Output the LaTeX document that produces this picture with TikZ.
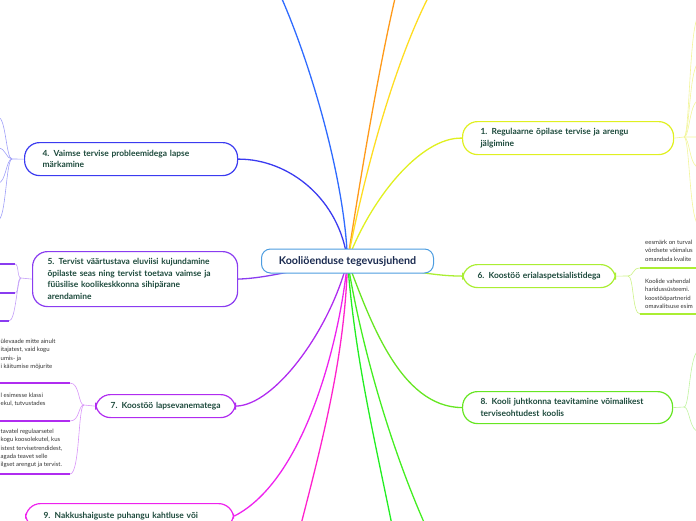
\documentclass[tikz,border=0pt]{standalone}
\usepackage{fontspec}
\setmainfont{Lato}
\usetikzlibrary{positioning}
\pgfdeclarelayer{back}
\pgfsetlayers{back,main}

\definecolor{rootblue}{HTML}{4D9DE0}
\definecolor{rootink}{HTML}{1A2A4F}
\definecolor{topicink}{HTML}{1D4A3C}
\definecolor{leafink}{HTML}{333333}
\definecolor{cfour}{HTML}{3B3BF0}
\definecolor{cfourlt}{HTML}{A0A0F8}
\definecolor{cfive}{HTML}{8A3CF0}
\definecolor{cfivelt}{HTML}{C4A0F8}
\definecolor{cseven}{HTML}{B02CF0}
\definecolor{csevenlt}{HTML}{D895F8}
\definecolor{cnine}{HTML}{EE22EE}
\definecolor{cmagenta}{HTML}{FF22CC}
\definecolor{cgreenA}{HTML}{22EE22}
\definecolor{cgreenB}{HTML}{44EE22}
\definecolor{ceight}{HTML}{66E622}
\definecolor{ceightlt}{HTML}{C0F3A0}
\definecolor{csix}{HTML}{AAEE33}
\definecolor{csixlt}{HTML}{CCF285}
\definecolor{cone}{HTML}{E0F020}
\definecolor{conelt}{HTML}{F2F59A}
\definecolor{cyellow}{HTML}{FFDD22}
\definecolor{corange}{HTML}{FF9A1A}
\definecolor{cblue}{HTML}{2F6BFF}

\tikzset{
  rootbox/.style={rectangle, draw=rootblue, line width=1pt, fill=white,
    rounded corners=9pt, minimum width=172pt, minimum height=24pt,
    text=rootink, font=\bfseries\fontsize{10.7}{12}\selectfont},
  topic/.style={rectangle, line width=1.2pt, fill=white, rounded corners=15pt,
    inner ysep=4.5pt, text=topicink, align=left, anchor=north west,
    font=\bfseries\fontsize{8.4}{11.5}\selectfont},
  leaf/.style={inner sep=0pt, anchor=north west, text=leafink, align=left,
    font=\fontsize{6}{8.2}\selectfont},
  link/.style={line width=1.3pt},
  sublink/.style={line width=0.6pt},
  underline/.style={line width=1.5pt},
}

\begin{document}
\begin{tikzpicture}[x=1pt, y=-1pt]
\useasboundingbox (0,0) rectangle (696,520);

% centre
\node[rootbox] (root) at (347.5,261) {Kooliöenduse tegevusjuhend};

% main topics
\node[topic, draw=cfour, minimum width=213pt, minimum height=33pt,
  inner xsep=18pt, text width=177pt] (vaimne) at (24,142)
  {4. Vaimse tervise probleemidega lapse\\märkamine};
\node[topic, draw=cfive, minimum width=205pt, minimum height=55pt,
  inner xsep=15pt, text width=175pt] (eluviis) at (32,251)
  {5. Tervist väärtustava eluviisi kujundamine\\õpilaste seas ning tervist toetava vaimse ja\\füüsilise koolikeskkonna sihipärane\\arendamine};
\node[topic, draw=cseven, minimum width=140pt, minimum height=23pt,
  inner xsep=10pt, text width=120pt, align=center] (vanemad) at (95,394)
  {7. Koostöö lapsevanematega};
\node[topic, draw=cnine, minimum width=208pt, minimum height=25pt,
  inner xsep=18pt, text width=172pt] (nakkus) at (25,503)
  {9. Nakkushaiguste puhangu kahtluse või};
\node[topic, draw=cone, minimum width=211pt, minimum height=33pt,
  inner xsep=18pt, text width=175pt] (jalgimine) at (462,121)
  {1. Regulaarne õpilase tervise ja arengu\\jälgimine};
\node[topic, draw=csix, minimum width=153pt, minimum height=23pt,
  inner xsep=8pt, text width=137pt, align=center] (eriala) at (462,264)
  {6. Koostöö erialaspetsialistidega};
\node[topic, draw=ceight, minimum width=210pt, minimum height=32pt,
  inner xsep=18pt, text width=174pt] (juhtkond) at (462,391)
  {8. Kooli juhtkonna teavitamine võimalikest\\terviseohtudest koolis};

% leaves
\node[leaf] (ulevaade) at (0.5,339)
  {ülevaade mitte ainult\\itajatest, vaid kogu\\umis- ja\\i käitumise mõjurite};
\node[leaf] (klass) at (0.5,393) {l esimesse klassi\\ekul, tutvustades};
\node[leaf] (koosolek) at (0.5,429)
  {tavatel regulaarsetel\\kogu koosolekutel, kus\\istest tervisetrendidest,\\agada teavet selle\\ilgset arengut ja tervist.};
\node[leaf] (turval) at (645,240) {eesmärk on turval\\võrdsete võimalus\\omandada kvalite};
\node[leaf] (vahend) at (645,279) {Koolide vahendal\\haridussüsteemi.\\koostööpartnerid\\omavalitsuse esim};

% junctions and loose ends
\coordinate (jfour) at (12,159);
\coordinate (jfive) at (21,278);
\coordinate (jseven) at (84,405);
\coordinate (jone) at (684,137);
\coordinate (jsix) at (628,276);
\coordinate (jeight) at (684,407);
\coordinate (ulA) at (70,383);
\coordinate (ulB) at (70,421);
\coordinate (ulC) at (70,474);
\coordinate (ulD) at (15,264);
\coordinate (ulE) at (15,293);
\coordinate (ulF) at (9,321);
\coordinate (ulG) at (640,268);
\coordinate (ulH) at (640,314);

\begin{pgfonlayer}{back}
% links from the centre
\draw[link, cblue] (root.center) .. controls (345,180) and (310,60) .. (278,-10);
\draw[link, corange] (root.center) .. controls (360,180) and (380,60) .. (397,-10);
\draw[link, cyellow] (root.center) .. controls (365,170) and (395,60) .. (432,-10);
\draw[link, cfour] (root.center) .. controls (340,200) and (290,159) .. (vaimne.east);
\draw[link, cfive] (root.center) .. controls (300,268) and (270,278) .. (eluviis.east);
\draw[link, cseven] (root.center) .. controls (330,330) and (275,405) .. (vanemad.east);
\draw[link, cnine] (root.center) .. controls (340,340) and (305,480) .. (nakkus.east);
\draw[link, cmagenta] (root.center) .. controls (345,360) and (320,450) .. (297,540);
\draw[link, cgreenA] (root.center) .. controls (355,360) and (375,440) .. (395,540);
\draw[link, cgreenB] (root.center) .. controls (360,340) and (390,450) .. (432,540);
\draw[link, ceight] (root.center) .. controls (370,320) and (400,407) .. (juhtkond.west);
\draw[link, csix] (root.center) .. controls (400,268) and (430,276) .. (eriala.west);
\draw[link, cone] (root.center) .. controls (370,200) and (420,137) .. (jalgimine.west);
\end{pgfonlayer}

% topic 4 children
\draw[sublink, cfourlt] (vaimne.west) -- (jfour);
\foreach \ty in {117,148,183,220}
  \draw[sublink, cfourlt] (jfour) .. controls (6,159) and (6,\ty) .. (-2,\ty);

% topic 5 children
\draw[sublink, cfivelt] (eluviis.west) -- (jfive);
\draw[sublink, cfivelt] (jfive) .. controls (17,278) and (19,264) .. (ulD);
\draw[sublink, cfivelt] (jfive) .. controls (17,278) and (19,293) .. (ulE);
\draw[sublink, cfivelt] (jfive) .. controls (17,278) and (16,321) .. (ulF);
\draw[underline, cfive] (ulD) -- ++(-20,0);
\draw[underline, cfive] (ulE) -- ++(-20,0);
\draw[underline, cfive] (ulF) -- ++(-20,0);

% topic 7 children
\draw[sublink, csevenlt] (vanemad.west) -- (jseven);
\draw[sublink, csevenlt] (jseven) .. controls (78,405) and (80,383) .. (ulA);
\draw[sublink, csevenlt] (jseven) .. controls (78,405) and (80,421) .. (ulB);
\draw[sublink, csevenlt] (jseven) .. controls (78,405) and (80,474) .. (ulC);
\draw[underline, cseven] (ulA) -- ++(-80,0);
\draw[underline, cseven] (ulB) -- ++(-80,0);
\draw[underline, cseven] (ulC) -- ++(-80,0);

% topic 1 children
\draw[sublink, conelt] (jalgimine.east) -- (jone) -- (700,137);
\foreach \ty in {15,62,100,168,226}
  \draw[sublink, conelt] (jone) .. controls (690,137) and (689,\ty) .. (700,\ty);

% topic 6 children
\draw[sublink, csixlt] (eriala.east) -- (jsix);
\draw[sublink, csixlt] (jsix) .. controls (634,276) and (632,268) .. (ulG);
\draw[sublink, csixlt] (jsix) .. controls (634,276) and (632,314) .. (ulH);
\draw[underline, csix] (ulG) -- ++(70,0);
\draw[underline, csix] (ulH) -- ++(70,0);

% topic 8 children
\draw[sublink, ceightlt] (juhtkond.east) -- (jeight);
\foreach \ty in {350,432}
  \draw[sublink, ceightlt] (jeight) .. controls (690,407) and (689,\ty) .. (700,\ty);

\end{tikzpicture}
\end{document}
